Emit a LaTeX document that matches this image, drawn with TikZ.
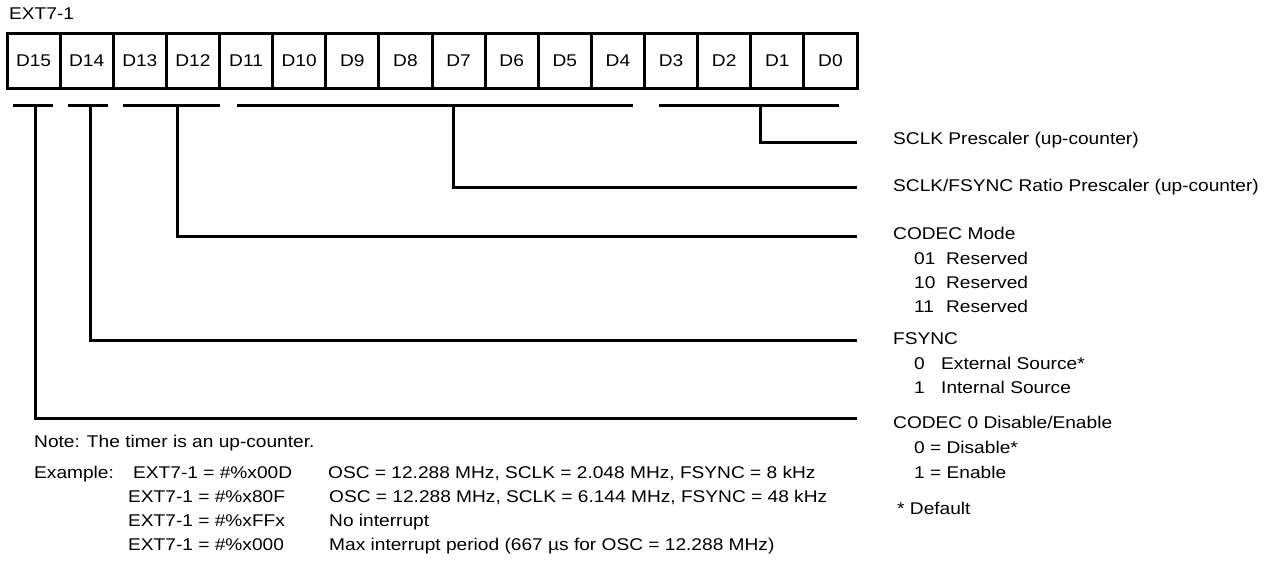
\documentclass[tikz,border=0pt]{standalone}
\usepackage{fontspec}
\setmainfont{Liberation Sans}[FakeStretch=1.125]
\usetikzlibrary{positioning, calc}

\begin{document}
\begin{tikzpicture}[
  x=1pt, y=-1pt,
  bitcell/.style={draw, line width=3pt, minimum width=53.125pt, minimum height=55pt, inner sep=0pt, font=\fontsize{17}{20}\selectfont},
  fieldbar/.style={line width=3pt},
  leader/.style={line width=3pt},
  lbl/.style={anchor=base west, inner sep=0pt, font=\fontsize{17}{20}\selectfont}
  ]
  \useasboundingbox (0,0) rectangle (1271,565);
  % Register
  \node[lbl] (regname) at (9,19) {EXT7-1};
  \foreach \i in {0,...,15}
    \node[bitcell] (d\i) at ({7+53.125*(15-\i)+26.5625}, 60.5) {D\i};
  % Field bars
  \draw[fieldbar] (13,105) -- (53,105);
  \draw[fieldbar] (68,105) -- (108,105);
  \draw[fieldbar] (123,105) -- (220,105);
  \draw[fieldbar] (237,105) -- (633,105);
  \draw[fieldbar] (659,105) -- (839,105);
  \coordinate (s15) at (35,105);
  \coordinate (s14) at (90.5,105);
  \coordinate (s12) at (177,105);
  \coordinate (s7) at (453,105);
  \coordinate (s1) at (760,105);
  % Leader ends
  \coordinate (e1) at (857,142);
  \coordinate (e7) at (857,187);
  \coordinate (e12) at (857,236);
  \coordinate (e14) at (857,340);
  \coordinate (e15) at (857,418);
  % Leaders
  \draw[leader] (s1) |- (e1);
  \draw[leader] (s7) |- (e7);
  \draw[leader] (s12) |- (e12);
  \draw[leader] (s14) |- (e14);
  \draw[leader] (s15) |- (e15);
  % SCLK prescaler
  \node[lbl] (sclk) at (893,144) {SCLK Prescaler (up-counter)};
  % Ratio prescaler
  \node[lbl] (ratio) at (893,191) {SCLK/FSYNC Ratio Prescaler (up-counter)};
  % CODEC mode
  \node[lbl] (mode) at (893,239) {CODEC Mode};
  \node[lbl] (mode01) at (914,264) {\makebox[32pt][l]{01}Reserved};
  \node[lbl] (mode10) at (914,288) {\makebox[32pt][l]{10}Reserved};
  \node[lbl] (mode11) at (914,312) {\makebox[32pt][l]{11}Reserved};
  % FSYNC
  \node[lbl] (fsync) at (893,344) {FSYNC};
  \node[lbl] (fsync0) at (914,369) {\makebox[27pt][l]{0}External Source*};
  \node[lbl] (fsync1) at (914,393) {\makebox[27pt][l]{1}Internal Source};
  % CODEC 0 enable
  \node[lbl] (codec) at (893,428) {CODEC 0 Disable/Enable};
  \node[lbl] (codec0) at (914,453) {0 = Disable*};
  \node[lbl] (codec1) at (914,478) {1 = Enable};
  \node[lbl] (dflt) at (897,514) {* Default};
  % Notes
  \node[lbl] (note) at (34,447) {Note: The timer is an up-counter.};
  \node[lbl] (exlbl) at (34,478) {Example:};
  \node[lbl] (ex1) at (133,478) {EXT7-1 = \#\%x00D};
  \node[lbl] (ex2) at (128,502) {EXT7-1 = \#\%x80F};
  \node[lbl] (ex3) at (128,526) {EXT7-1 = \#\%xFFx};
  \node[lbl] (ex4) at (128,550) {EXT7-1 = \#\%x000};
  \node[lbl] (osc1) at (328,478) {OSC = 12.288 MHz, SCLK = 2.048 MHz, FSYNC = 8 kHz};
  \node[lbl] (osc2) at (329,502) {OSC = 12.288 MHz, SCLK = 6.144 MHz, FSYNC = 48 kHz};
  \node[lbl] (osc3) at (329,526) {No interrupt};
  \node[lbl] (osc4) at (329,550) {Max interrupt period (667 µs for OSC = 12.288 MHz)};
\end{tikzpicture}
\end{document}
